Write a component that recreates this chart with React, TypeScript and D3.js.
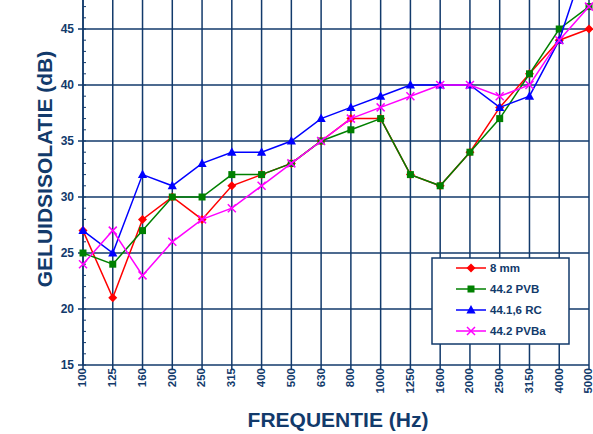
import React, { useEffect, useRef } from 'react';
import * as d3 from 'd3';

const FREQS = ['100', '125', '160', '200', '250', '315', '400', '500', '630', '800', '1000', '1250', '1600', '2000', '2500', '3150', '4000', '5000'];
const Y_TICKS = [15, 20, 25, 30, 35, 40, 45];

const MM8 = [27, 21, 28, 30, 28, 31, 32, 33, 35, 37, 37, 32, 31, 34, 38, 41, 44, 45];
const PVB = [25, 24, 27, 30, 30, 32, 32, 33, 35, 36, 37, 32, 31, 34, 37, 41, 45, 47];
const RC = [27, 25, 32, 31, 33, 34, 34, 35, 37, 38, 39, 40, 40, 40, 38, 39, 44, 52];
const PVBA = [24, 27, 23, 26, 28, 29, 31, 33, 35, 37, 38, 39, 40, 40, 39, 40, 44, 47];

const SERIES = [
  { name: '8 mm', values: MM8, color: '#ff0000', marker: 'diamond' },
  { name: '44.2 PVB', values: PVB, color: '#008000', marker: 'square' },
  { name: '44.1,6 RC', values: RC, color: '#0000ff', marker: 'triangle' },
  { name: '44.2 PVBa', values: PVBA, color: '#ff00ff', marker: 'cross' },
];

const NAVY = '#123a6b';
const FONT = '"Liberation Sans", Arial, sans-serif';

// marker outlines, relative to the point
const MARKER_PATHS: Record<string, string> = {
  diamond: 'M0,-4.5L4.5,0L0,4.5L-4.5,0Z',
  square: 'M-3.5,-3.5H3.5V3.5H-3.5Z',
  triangle: 'M0,-5L4.6,3.5H-4.6Z',
  cross: 'M-4,-4L4,4M-4,4L4,-4',
};

const App: React.FC = () => {
  const svgRef = useRef<SVGSVGElement>(null);

  useEffect(() => {
    if (!svgRef.current) return;
    const svg = d3.select(svgRef.current);
    svg.selectAll('*').remove();

    const x = d3.scalePoint<string>().domain(FREQS).range([83, 589]);
    const y = d3.scaleLinear().domain([15, 50]).range([365, -27]);

    // grid
    const grid = svg.append('g');
    FREQS.forEach((f) => {
      grid.append('line')
        .attr('x1', x(f)!).attr('x2', x(f)!)
        .attr('y1', y(50)).attr('y2', y(15))
        .attr('stroke', NAVY).attr('stroke-width', 1.5);
    });
    [20, 25, 30, 35, 40, 45, 50].forEach((v) => {
      grid.append('line')
        .attr('x1', 83).attr('x2', 589)
        .attr('y1', y(v)).attr('y2', y(v))
        .attr('stroke', NAVY).attr('stroke-width', 1.5);
    });

    // y axis
    const ya = svg.append('g');
    ya.append('line').attr('x1', 83).attr('x2', 83).attr('y1', y(50)).attr('y2', y(15))
      .attr('stroke', NAVY).attr('stroke-width', 1.5);
    d3.range(15, 50).forEach((v) => {
      ya.append('line').attr('x1', 83).attr('x2', 86).attr('y1', y(v)).attr('y2', y(v))
        .attr('stroke', NAVY).attr('stroke-width', 1);
    });
    Y_TICKS.forEach((v) => {
      ya.append('line').attr('x1', 78).attr('x2', 83).attr('y1', y(v)).attr('y2', y(v))
        .attr('stroke', NAVY).attr('stroke-width', 1.5);
      ya.append('text').text(v)
        .attr('x', 74).attr('y', y(v)).attr('dy', '0.36em')
        .attr('text-anchor', 'end')
        .attr('font-family', FONT).attr('font-weight', 'bold').attr('font-size', 12)
        .attr('fill', NAVY);
    });

    // x axis
    const xa = svg.append('g');
    xa.append('line').attr('x1', 83).attr('x2', 589).attr('y1', y(15)).attr('y2', y(15))
      .attr('stroke', NAVY).attr('stroke-width', 1.5);
    FREQS.forEach((f) => {
      xa.append('line').attr('x1', x(f)!).attr('x2', x(f)!).attr('y1', y(15)).attr('y2', y(15) + 4)
        .attr('stroke', NAVY).attr('stroke-width', 1.5);
      xa.append('text').text(f)
        .attr('transform', `translate(${x(f)! - 0.5},${y(15) + 3}) rotate(-90)`)
        .attr('dy', '0.34em')
        .attr('text-anchor', 'end')
        .attr('font-family', FONT).attr('font-weight', 'bold').attr('font-size', 11.5)
        .attr('fill', NAVY);
    });

    // axis titles
    svg.append('text').text('GELUIDSISOLATIE (dB)')
      .attr('transform', `translate(52,169) rotate(-90)`)
      .attr('text-anchor', 'middle')
      .attr('font-family', FONT).attr('font-weight', 'bold').attr('font-size', 21)
      .attr('fill', NAVY);
    svg.append('text').text('FREQUENTIE (Hz)')
      .attr('x', 338).attr('y', 427)
      .attr('text-anchor', 'middle')
      .attr('font-family', FONT).attr('font-weight', 'bold').attr('font-size', 21)
      .attr('fill', NAVY);

    const drawMarker = (g: any, kind: string, color: string, cx: number, cy: number) => {
      const p = g.append('path')
        .attr('d', MARKER_PATHS[kind])
        .attr('transform', `translate(${cx},${cy})`);
      if (kind === 'cross') {
        p.attr('stroke', color).attr('stroke-width', 1.5).attr('fill', 'none');
      } else {
        p.attr('fill', color);
      }
    };

    const line = d3.line<number>().x((_, i) => x(FREQS[i])!).y((d) => y(d));

    SERIES.forEach((s) => {
      const g = svg.append('g');
      g.append('path').datum(s.values)
        .attr('d', line)
        .attr('fill', 'none').attr('stroke', s.color).attr('stroke-width', 1.5);
      s.values.forEach((v, i) => drawMarker(g, s.marker, s.color, x(FREQS[i])!, y(v)));
    });

    // legend
    const lg = svg.append('g');
    lg.append('rect').attr('x', 432).attr('y', 258).attr('width', 137).attr('height', 86)
      .attr('fill', '#ffffff').attr('stroke', NAVY).attr('stroke-width', 1.5);
    SERIES.forEach((s, i) => {
      const ly = 268 + i * 21;
      lg.append('line').attr('x1', 456).attr('x2', 486).attr('y1', ly).attr('y2', ly)
        .attr('stroke', s.color).attr('stroke-width', 1.5);
      drawMarker(lg, s.marker, s.color, 471, ly);
      lg.append('text').text(s.name)
        .attr('x', 490).attr('y', ly).attr('dy', '0.36em')
        .attr('font-family', FONT).attr('font-weight', 'bold').attr('font-size', 11.5)
        .attr('fill', NAVY);
    });
  }, []);

  return (
    <svg
      ref={svgRef}
      width={593}
      height={434}
      style={{ position: 'absolute', left: 0, top: 0, display: 'block', background: '#fff' }}
    />
  );
};

export default App;
